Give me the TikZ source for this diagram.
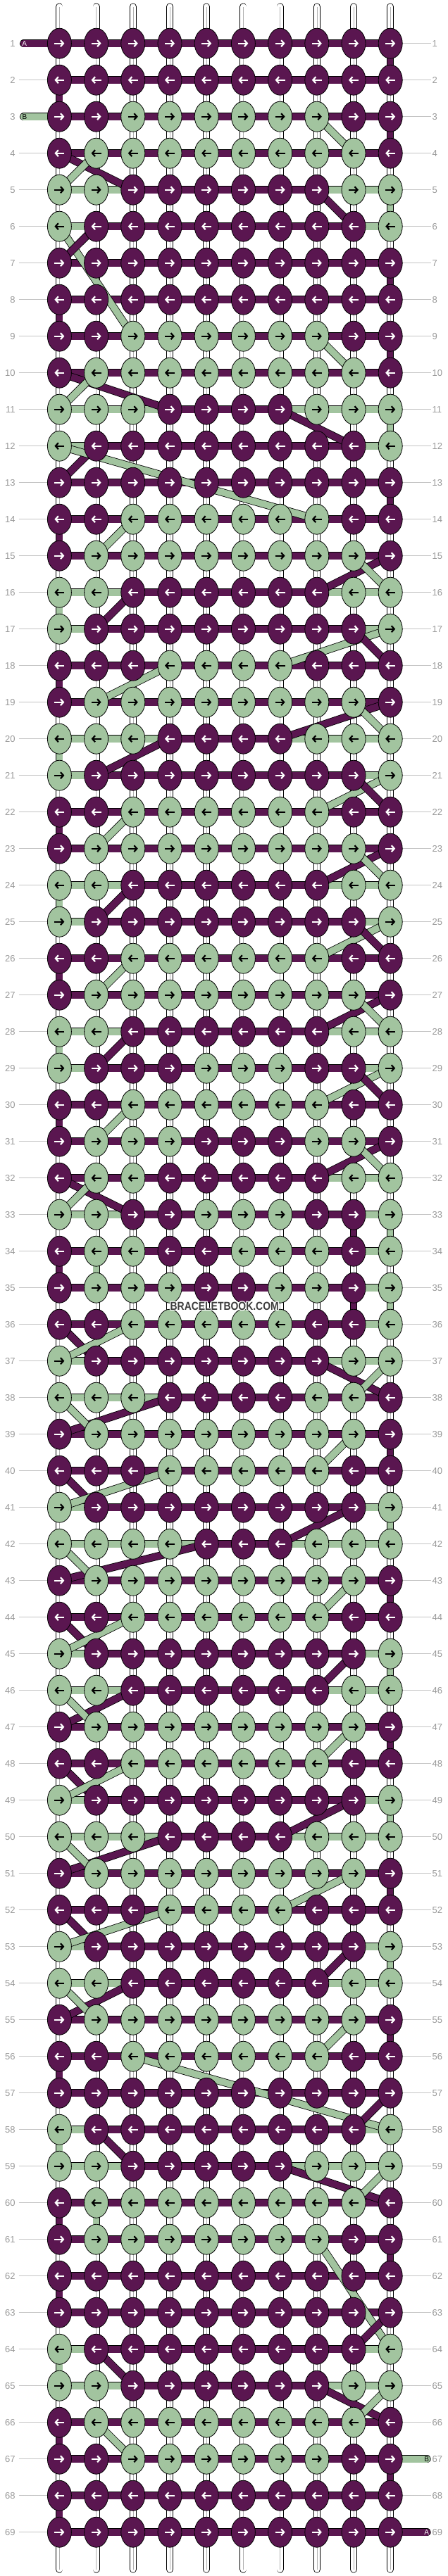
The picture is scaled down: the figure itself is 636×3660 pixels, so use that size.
\documentclass[tikz,border=0pt]{standalone}
\usepackage{fontspec}
\setmainfont{Liberation Sans}
\usetikzlibrary{shapes.geometric,arrows.meta}
\definecolor{cP}{HTML}{5A1650}
\definecolor{cG}{HTML}{A2C49F}
\colorlet{aP}{white}
\colorlet{aG}{black}
\definecolor{lblgray}{HTML}{9A9A9A}
\definecolor{guidegray}{HTML}{C4C4C4}
\definecolor{strgray}{HTML}{B0B0B0}
\definecolor{wmgray}{HTML}{3C3C3C}
\tikzset{
  knot/.style={ellipse, draw=black, line width=0.8pt, minimum width=34pt, minimum height=43pt, inner sep=0pt},
  hbar/.style={line width=0.8pt, draw=black, double distance=9.8pt},
  dbar/.style={line width=0.8pt, draw=black, double distance=9.4pt},
  vseg/.style={line width=0.8pt, draw=black, double distance=8.4pt},
  wstring/.style={line width=0.8pt, draw=black, double=white, double distance=8.4pt, line cap=round},
  arr/.style={line width=2.2pt, -{Straight Barb[length=4pt,width=9pt]}},
  lbl/.style={font=\fontsize{13}{15}\selectfont, text=lblgray, inner sep=0pt},
  guide/.style={draw=guidegray, line width=1pt},
  endlbl/.style={font=\fontsize{10}{12}\selectfont, inner sep=0pt},
  wm/.style={font=\bfseries\fontsize{16.3}{18}\selectfont, inner sep=0pt}
}
\begin{document}
\begin{tikzpicture}[x=1pt,y=-1pt]
\fill[white] (0,0) rectangle (636,3660);
\useasboundingbox (0,0) rectangle (636,3660);
% grid coordinates
\foreach \r in {1,...,69}{
  \foreach \c in {1,...,10}{
    \coordinate (p\r-\c) at ({84.4+52.2*(\c-1)},{61.7+52*(\r-1)});
  }
}
% row labels
\foreach \r in {1,...,69}{
  \pgfmathsetmacro\yy{61.7+52*(\r-1)}
  \coordinate (ll\r) at (26.5,\yy);
  \coordinate (rl\r) at (611.5,\yy);
  \node[lbl, anchor=east] (L\r) at (21.8,\yy) {\r};
  \node[lbl, anchor=west] (R\r) at (613.5,\yy) {\r};
}
\foreach \r in {2,4,5,...,69} \draw[guide] (ll\r) -- (p\r-1);
\foreach \r in {1,...,66,68} \draw[guide] (p\r-10) -- (rl\r);
% white base strings
\foreach \c in {1,...,10}{
  \pgfmathsetmacro\xx{84.4+52.2*(\c-1)}
  \coordinate (st\c) at (\xx,9.5);
  \coordinate (sb\c) at (\xx,3650.5);
  \draw[wstring] (st\c) -- (sb\c);
  \draw[strgray, line width=0.6pt] (st\c) -- (sb\c);
}
% coloured vertical segments
\foreach \ra/\c/\col in {1/10/P, 2/1/P, 3/10/P, 5/10/G, 7/10/P, 8/1/P, 9/10/P, 11/10/G, 13/10/P, 14/1/P, 16/1/G, 18/1/P, 20/1/G, 22/1/P, 24/1/G, 26/1/P, 28/1/G, 30/1/P, 33/9/P, 33/10/G, 34/1/P, 34/2/G, 35/9/P, 35/10/G, 39/10/P, 41/10/G, 43/10/P, 45/10/G, 47/10/P, 49/10/G, 51/10/P, 53/10/G, 55/10/P, 56/1/P, 58/1/G, 60/1/P, 60/2/G, 61/10/P, 62/1/P, 64/1/G, 66/1/P, 67/10/P, 68/1/P}{
  \pgfmathtruncatemacro\rb{\ra+1}
  \draw[vseg, double=c\col] (p\ra-\c) -- (p\rb-\c);
}
% horizontal bars: purple everywhere, then green ones
\foreach \r in {1,...,69}{
  \foreach \c in {1,...,9}{
    \pgfmathtruncatemacro\cn{\c+1}
    \draw[hbar, double=cP] (p\r-\c) -- (p\r-\cn);
  }
}
\foreach \r/\gl in {5/{1,2,8,9}, 6/{1,9}, 11/{1,2,3,7,8,9}, 12/{1,9}, 16/{1,2,8,9}, 17/{1,9}, 20/{1,2,3,7,8,9}, 21/{1,9}, 24/{1,2,8,9}, 25/{1,9}, 28/{1,2,8,9}, 29/{1,9}, 32/{8,9}, 33/{1,2,9}, 34/{9}, 35/{9}, 36/{9}, 37/{1,8,9}, 38/{1,2,3}, 41/{1,9}, 42/{1,2,3,4,7,8,9}, 45/{1,9}, 46/{1,2,8,9}, 49/{1,9}, 50/{1,2,3,7,8,9}, 53/{1,9}, 54/{1,2,8,9}, 58/{1,9}, 59/{1,2,7,8,9}, 64/{1,9}, 65/{1,2,8,9}}{
  \foreach \c in \gl {
    \pgfmathtruncatemacro\cn{\c+1}
    \draw[hbar, double=cG] (p\r-\c) -- (p\r-\cn);
  }
}
% end strings A and B
\pgfmathsetmacro\yA{61.7}
\pgfmathsetmacro\yB{61.7+52*2}
\pgfmathsetmacro\yC{61.7+52*66}
\pgfmathsetmacro\yD{61.7+52*68}
\coordinate (inA) at (33.75,\yA);
\coordinate (inB) at (33.75,\yB);
\coordinate (outB) at (606,\yC);
\coordinate (outA) at (606,\yD);
\draw[hbar, double=cP, line cap=round] (inA) -- (p1-1);
\draw[hbar, double=cG, line cap=round] (inB) -- (p3-1);
\draw[hbar, double=cG, line cap=round] (p67-10) -- (outB);
\draw[hbar, double=cP, line cap=round] (p69-10) -- (outA);
\node[endlbl, text=white] (tA1) at (34.8,\yA) {A};
\node[endlbl, text=black] (tB1) at (35,\yB) {B};
\node[endlbl, text=black] (tB2) at (605.8,\yC) {B};
\node[endlbl, text=white] (tA2) at (605.8,\yD) {A};
% diagonal strands
\foreach \ra/\ca/\rb/\cb/\col in {3/8/4/9/G, 4/1/5/3/P, 4/2/5/1/G, 5/8/6/9/P, 6/1/9/3/G, 6/2/7/1/P, 9/8/10/9/G, 10/1/11/4/P, 10/2/11/1/G, 11/7/12/9/P, 12/2/13/1/P, 12/1/14/8/G, 14/3/15/2/G, 15/10/16/8/P, 15/9/16/10/G, 16/3/17/2/P, 17/10/18/7/G, 17/9/18/10/P, 18/4/19/2/G, 19/10/20/7/P, 19/9/20/10/G, 20/4/21/2/P, 21/10/22/8/G, 21/9/22/10/P, 22/3/23/2/G, 23/10/24/8/P, 23/9/24/10/G, 24/3/25/2/P, 25/10/26/8/G, 25/9/26/10/P, 26/3/27/2/G, 27/10/28/8/P, 27/9/28/10/G, 28/3/29/2/P, 29/10/30/8/G, 29/9/30/10/P, 30/3/31/2/G, 31/10/32/8/P, 31/9/32/10/G, 32/1/33/3/P, 32/2/33/1/G, 36/1/37/2/P, 36/3/37/1/G, 37/8/38/10/P, 37/10/38/9/G, 38/4/39/1/P, 38/1/39/2/G, 39/9/40/8/G, 40/1/41/2/P, 40/4/41/1/G, 41/9/42/7/P, 42/5/43/1/P, 42/1/43/2/G, 43/9/44/8/G, 44/1/45/2/P, 44/3/45/1/G, 45/9/46/8/P, 46/3/47/1/P, 46/1/47/2/G, 47/9/48/8/G, 48/1/49/2/P, 48/3/49/1/G, 49/9/50/7/P, 50/4/51/1/P, 50/1/51/2/G, 51/9/52/7/G, 52/1/53/2/P, 52/4/53/1/G, 53/9/54/8/P, 54/3/55/1/P, 54/1/55/2/G, 55/9/56/8/G, 56/3/58/10/G, 57/10/58/9/P, 58/2/59/3/P, 59/7/60/10/P, 59/10/60/9/G, 61/8/64/10/G, 63/10/64/9/P, 64/2/65/3/P, 65/8/66/10/P, 65/10/66/9/G, 66/2/67/3/G}{
  \draw[dbar, double=c\col] (p\ra-\ca) -- (p\rb-\cb);
}
% knots with arrows
\foreach \r/\kl in {
1/{P,P,P,P,P,P,P,P,P,P},
2/{P,P,P,P,P,P,P,P,P,P},
3/{P,P,G,G,G,G,G,G,P,P},
4/{P,G,G,G,G,G,G,G,G,P},
5/{G,G,P,P,P,P,P,P,G,G},
6/{G,P,P,P,P,P,P,P,P,G},
7/{P,P,P,P,P,P,P,P,P,P},
8/{P,P,P,P,P,P,P,P,P,P},
9/{P,P,G,G,G,G,G,G,P,P},
10/{P,G,G,G,G,G,G,G,G,P},
11/{G,G,G,P,P,P,P,G,G,G},
12/{G,P,P,P,P,P,P,P,P,G},
13/{P,P,P,P,P,P,P,P,P,P},
14/{P,P,G,G,G,G,G,G,P,P},
15/{P,G,G,G,G,G,G,G,G,P},
16/{G,G,P,P,P,P,P,P,G,G},
17/{G,P,P,P,P,P,P,P,P,G},
18/{P,P,P,G,G,G,G,P,P,P},
19/{P,G,G,G,G,G,G,G,G,P},
20/{G,G,G,P,P,P,P,G,G,G},
21/{G,P,P,P,P,P,P,P,P,G},
22/{P,P,G,G,G,G,G,G,P,P},
23/{P,G,G,G,G,G,G,G,G,P},
24/{G,G,P,P,P,P,P,P,G,G},
25/{G,P,P,P,P,P,P,P,P,G},
26/{P,P,G,G,G,G,G,G,P,P},
27/{P,G,G,G,G,G,G,G,G,P},
28/{G,G,P,P,P,P,P,P,G,G},
29/{G,P,P,P,G,G,G,P,P,G},
30/{P,P,G,G,G,G,G,G,P,P},
31/{P,G,G,G,P,P,P,G,G,P},
32/{P,G,G,P,P,P,P,P,G,G},
33/{G,G,P,P,G,G,G,P,P,G},
34/{P,G,G,P,P,G,G,G,P,G},
35/{P,G,G,G,P,P,G,G,P,G},
36/{P,P,G,G,G,G,G,P,P,G},
37/{G,P,P,P,P,P,P,P,G,G},
38/{G,G,G,P,P,P,P,G,G,P},
39/{P,G,G,G,G,G,G,G,G,P},
40/{P,P,P,G,G,G,G,G,P,P},
41/{G,P,P,P,P,P,P,P,P,G},
42/{G,G,G,G,P,P,P,G,G,G},
43/{P,G,G,G,G,G,G,G,G,P},
44/{P,P,G,G,G,G,G,G,P,P},
45/{G,P,P,P,P,P,P,P,P,G},
46/{G,G,P,P,P,P,P,P,G,G},
47/{P,G,G,G,G,G,G,G,G,P},
48/{P,P,G,G,G,G,G,G,P,P},
49/{G,P,P,P,P,P,P,P,P,G},
50/{G,G,G,P,P,P,P,G,G,G},
51/{P,G,G,G,G,G,G,G,G,P},
52/{P,P,P,G,G,G,G,P,P,P},
53/{G,P,P,P,P,P,P,P,P,G},
54/{G,G,P,P,P,P,P,P,G,G},
55/{P,G,G,G,G,G,G,G,G,P},
56/{P,P,G,G,G,G,G,G,P,P},
57/{P,P,P,P,P,P,P,P,P,P},
58/{G,P,P,P,P,P,P,P,P,G},
59/{G,G,P,P,P,P,P,G,G,G},
60/{P,G,G,G,G,G,G,G,G,P},
61/{P,G,G,G,G,G,G,G,P,P},
62/{P,P,P,P,P,P,P,P,P,P},
63/{P,P,P,P,P,P,P,P,P,P},
64/{G,P,P,P,P,P,P,P,P,G},
65/{G,G,P,P,P,P,P,P,G,G},
66/{P,G,G,G,G,G,G,G,G,P},
67/{P,P,G,G,G,G,G,G,P,P},
68/{P,P,P,P,P,P,P,P,P,P},
69/{P,P,P,P,P,P,P,P,P,P}}{
  \ifodd\r \def\aS{-7}\def\aE{7}\else\def\aS{7}\def\aE{-7}\fi
  \foreach \kc [count=\c] in \kl {
    \node[knot, fill=c\kc] (k\r-\c) at (p\r-\c) {};
    \draw[arr, draw=a\kc] ([xshift=\aS pt]k\r-\c.center) -- ([xshift=\aE pt]k\r-\c.center);
  }
}
% watermark
\foreach \dx/\dy [count=\i] in {-1/-1,-1/0,-1/1,0/-1,0/1,1/-1,1/0,1/1}{
  \node[wm, text=white] (wmh\i) at (318.7+\dx,1856+\dy) {\scalebox{0.855}[1]{BRACELETBOOK.COM}};
}
\node[wm, text=wmgray] (wm) at (318.7,1856) {\scalebox{0.855}[1]{BRACELETBOOK.COM}};
\end{tikzpicture}
\end{document}
